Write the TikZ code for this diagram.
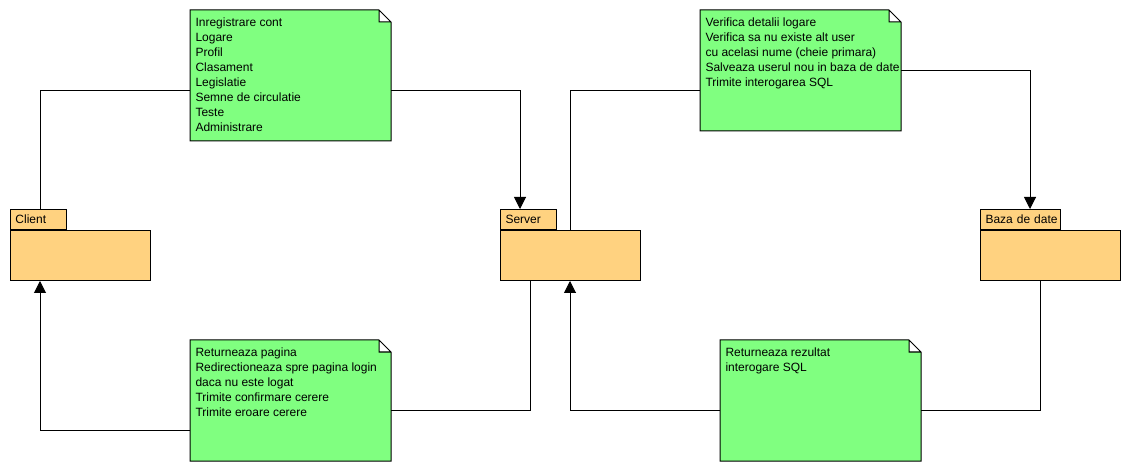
\documentclass[tikz,border=0pt]{standalone}
\usepackage{fontspec}
\setmainfont{Liberation Sans}
\usetikzlibrary{arrows.meta}

\definecolor{notegreen}{HTML}{80FF80}
\definecolor{pkgorange}{HTML}{FFD280}

\begin{document}
\begin{tikzpicture}[x=1pt,y=-1pt,line width=1pt,>={Triangle[width=12pt,length=12pt]},
	font=\fontsize{12}{15}\selectfont,
	pkg/.style={draw, fill=pkgorange, minimum width=140pt, minimum height=50pt, inner sep=0pt, anchor=north west},
	tab/.style={draw, fill=pkgorange, minimum height=20pt, text width=#1, inner xsep=5pt, inner ysep=0pt, align=left, anchor=south west},
	note/.style={minimum width=200pt, minimum height=#1, inner sep=0pt, anchor=north west},
	notetext/.style={anchor=north west, align=left, inner xsep=5pt, inner ysep=7pt}]
	\useasboundingbox (0,0) rectangle (1130,470);

	% packages
	\node[pkg] (client) at (10,230) {};
	\node[tab=46pt] (clienttab) at (client.north west) {Client};
	\node[pkg] (server) at (500,230) {};
	\node[tab=46pt] (servertab) at (server.north west) {Server};
	\node[pkg] (db) at (980,230) {};
	\node[tab=70pt] (dbtab) at (db.north west) {\mbox{Baza de date}};

	% notes
	\node[note=130pt] (n1) at (190,10) {};
	\node[note=120pt] (n2) at (700,10) {};
	\node[note=120pt] (n3) at (190,340) {};
	\node[note=120pt] (n4) at (720,340) {};
	\foreach \n in {n1,n2,n3,n4}
		\draw[fill=notegreen] (\n.south west) -- (\n.north west) -- ([xshift=-12pt]\n.north east)
			-- ([yshift=-12pt]\n.north east) -- (\n.south east) -- cycle
			([xshift=-12pt]\n.north east) |- ([yshift=-12pt]\n.north east);

	\node[notetext] (n1text) at (n1.north west) {Inregistrare cont\\Logare\\Profil\\Clasament\\Legislatie\\Semne de circulatie\\Teste\\Administrare};
	\node[notetext] (n2text) at (n2.north west) {Verifica detalii logare\\Verifica sa nu existe alt user\\cu acelasi nume (cheie primara)\\Salveaza userul nou in baza de date\\Trimite interogarea SQL};
	\node[notetext] (n3text) at (n3.north west) {Returneaza pagina\\Redirectioneaza spre pagina login\\daca nu este logat\\Trimite confirmare cerere\\Trimite eroare cerere};
	\node[notetext] (n4text) at (n4.north west) {Returneaza rezultat\\interogare SQL};

	% connectors
	\draw ([xshift=30pt]clienttab.north west) |- ([yshift=-15pt]n1.west);
	\draw[->] ([yshift=-15pt]n1.east) -| ([xshift=20pt]servertab.north west);
	\draw ([xshift=70pt]server.north west) |- ([yshift=-20pt]n2.west);
	\draw[->] (n2.east) -| ([xshift=50pt]dbtab.north west);
	\draw ([xshift=60pt]db.south west) |- ([yshift=-10pt]n4.east);
	\draw[->] ([yshift=-10pt]n4.west) -| ([xshift=70pt]server.south west);
	\draw ([xshift=30pt]server.south west) |- ([yshift=-10pt]n3.east);
	\draw[->] ([yshift=-30pt]n3.west) -| ([xshift=30pt]client.south west);
\end{tikzpicture}
\end{document}
